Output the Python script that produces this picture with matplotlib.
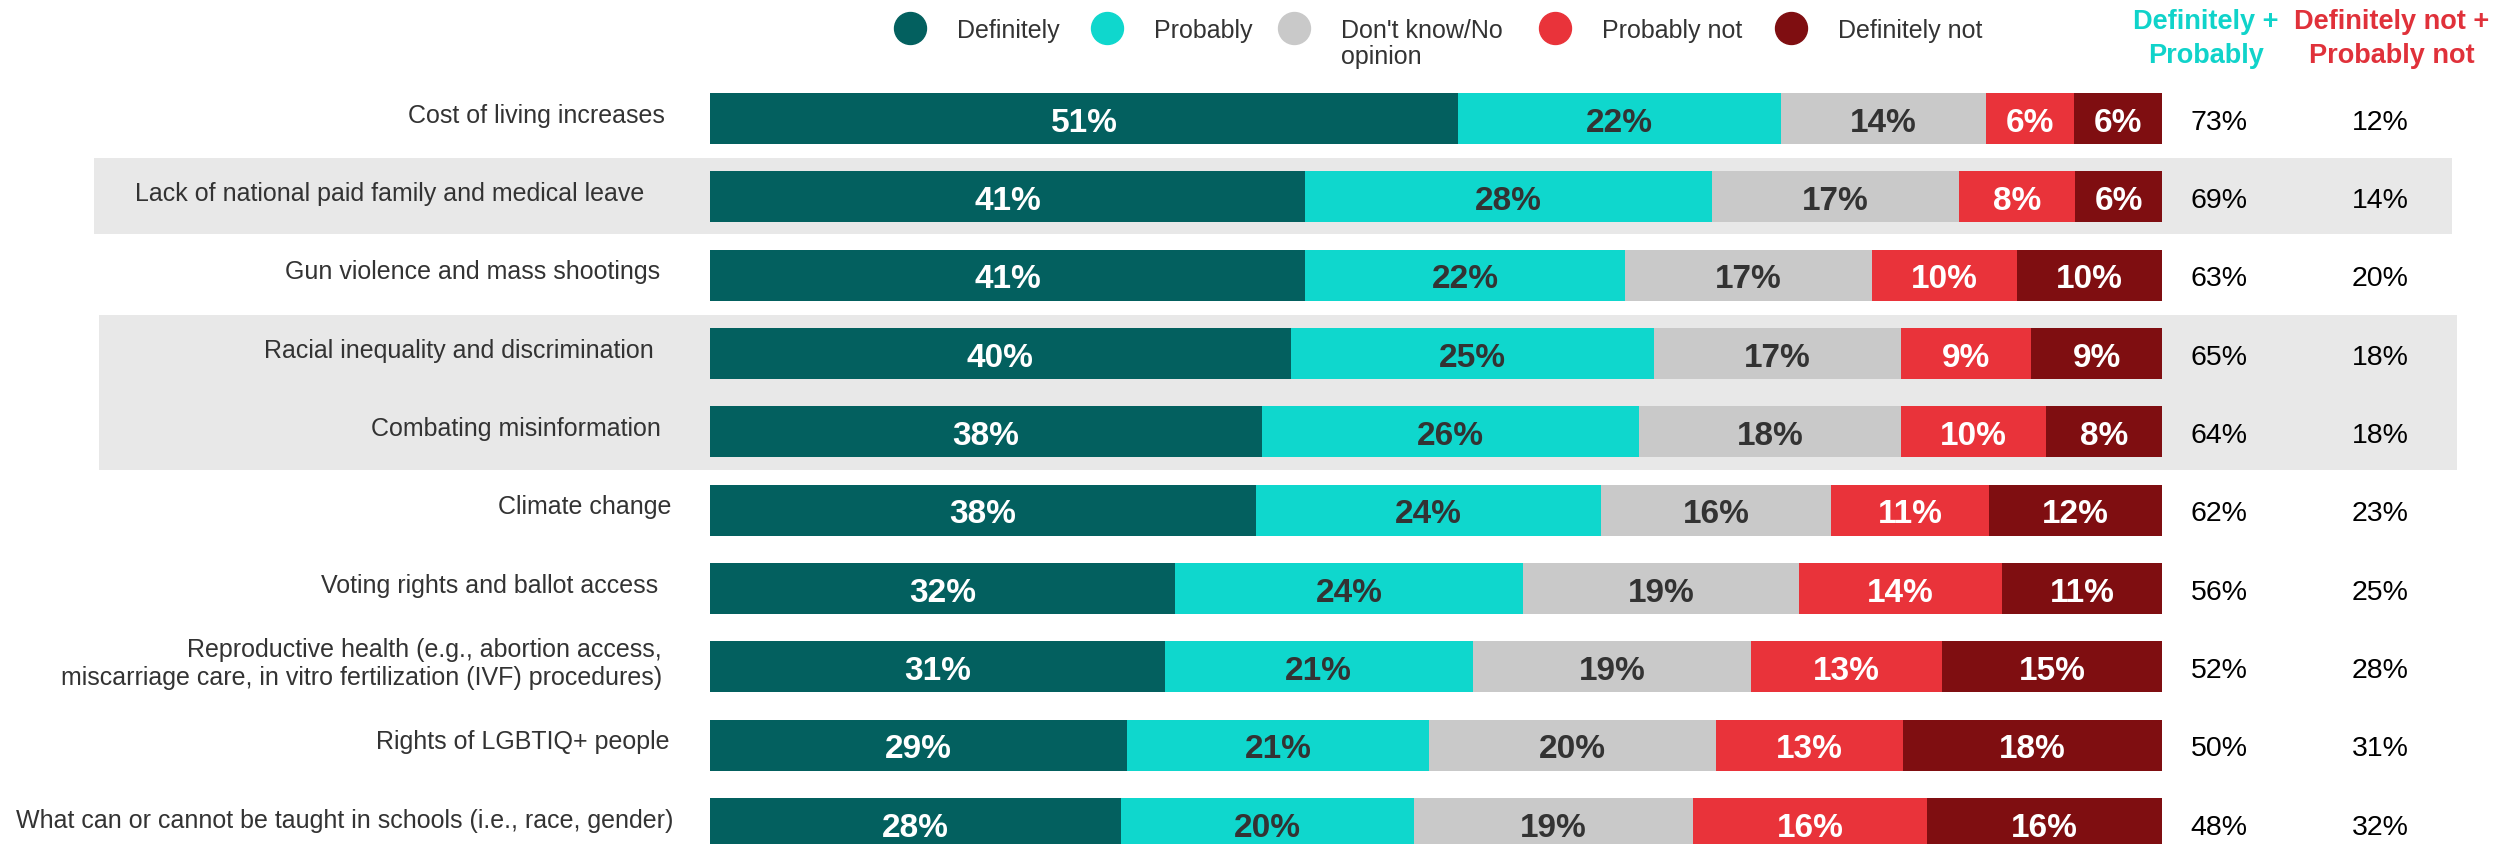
import matplotlib.pyplot as plt
import matplotlib.transforms as mtransforms
from matplotlib.lines import Line2D
from matplotlib.patches import Rectangle
import numpy as np

plt.rcParams['font.family'] = ['Liberation Sans', 'DejaVu Sans']

issues = ['Cost of living increases',
          'Lack of national paid family and medical leave',
          'Gun violence and mass shootings',
          'Racial inequality and discrimination',
          'Combating misinformation',
          'Climate change',
          'Voting rights and ballot access',
          'Reproductive health (e.g., abortion access,\nmiscarriage care, in vitro fertilization (IVF) procedures)',
          'Rights of LGBTIQ+ people',
          'What can or cannot be taught in schools (i.e., race, gender)']

responses = ['Definitely', 'Probably', "Don't know/No\nopinion", 'Probably not', 'Definitely not']

definitely = [51, 41, 41, 40, 38, 38, 32, 31, 29, 28]
probably = [22, 28, 22, 25, 26, 24, 24, 21, 21, 20]
dont_know = [14, 17, 17, 17, 18, 16, 19, 19, 20, 19]
probably_not = [6, 8, 10, 9, 10, 11, 14, 13, 13, 16]
definitely_not = [6, 6, 10, 9, 8, 12, 11, 15, 18, 16]

colors = ['#03605F', '#0FD7CD', '#C9C9C9', '#E9333A', '#7F0E11']
text_colors = ['white', '#333333', '#333333', 'white', 'white']

# figure is laid out in pixels
W, H = 2494, 845
fig = plt.figure(figsize=(W / 100, H / 100), dpi=100)

bar_left, bar_right = 710, 2162
row0, row_step, bar_px = 119.5, 78.35, 51

ax = fig.add_axes([bar_left / W, 0, (bar_right - bar_left) / W, 1])
ax.set_xlim(0, 100)
ax.set_ylim((H - row0) / row_step, -row0 / row_step)
ax.axis('off')

trans = mtransforms.blended_transform_factory(fig.transFigure, ax.transData)


def stacked_text(x_px, base_px, gap_px, s, **kw):
    # one text per line, each on its own baseline
    for j, line in enumerate(s.split('\n')):
        fig.text(x_px / W, 1 - (base_px + j * gap_px) / H, line, va='baseline', **kw)


# grey bands behind some rows
bands = [(1, 1, 94, 2452), (3, 4, 99, 2457)]
for r0, r1, x0, x1 in bands:
    ax.add_patch(Rectangle((x0 / W, r0 - 0.49), (x1 - x0) / W, r1 - r0 + 0.97,
                           transform=trans, color='#E8E8E8', lw=0, zorder=0, clip_on=False))

table = np.array([definitely, probably, dont_know, probably_not, definitely_not]).T
shares = table / table.sum(axis=1, keepdims=True) * 100
y = np.arange(len(issues))
height = bar_px / row_step

left = np.zeros(len(issues))
for k in range(len(responses)):
    ax.barh(y, shares[:, k], left=left, height=height, color=colors[k], lw=0, zorder=2)
    for i in range(len(issues)):
        ax.text(left[i] + shares[i, k] / 2, y[i], '%d%%' % table[i, k], ha='center',
                va='center_baseline', fontsize=24, fontweight='bold', color=text_colors[k], zorder=3)
    left += shares[:, k]

# category labels (right edges in px)
label_right = [665, 644, 660, 654, 661, 671, 658, 662, 670, 673]
for i, name in enumerate(issues):
    ax.text(label_right[i] / W, y[i] - 0.05, name, transform=trans, ha='right', va='center',
            multialignment='right', fontsize=18, color='#333333')

# net columns
pos_net = table[:, 0] + table[:, 1]
neg_net = table[:, 3] + table[:, 4]
for i in range(len(issues)):
    ax.text(2219 / W, y[i], '%d%%' % pos_net[i], transform=trans, ha='center',
            va='center_baseline', fontsize=20.5, color='black')
    ax.text(2380 / W, y[i], '%d%%' % neg_net[i], transform=trans, ha='center',
            va='center_baseline', fontsize=20.5, color='black')

stacked_text(2206, 29, 34, 'Definitely +\nProbably', ha='center',
             fontsize=19.5, fontweight='bold', color='#10D3CA')
stacked_text(2392, 29, 34, 'Definitely not +\nProbably not', ha='center',
             fontsize=19.5, fontweight='bold', color='#E0313A')

# legend
legend_x = [910, 1107, 1294, 1555, 1791]
for k, name in enumerate(responses):
    fig.add_artist(Line2D([legend_x[k] / W], [1 - 29 / H], marker='o', markersize=23,
                          color=colors[k], lw=0, transform=fig.transFigure))
    stacked_text(legend_x[k] + 47, 38, 26, name, ha='left', fontsize=18, color='#333333')

fig.savefig('out.png', dpi=100)
